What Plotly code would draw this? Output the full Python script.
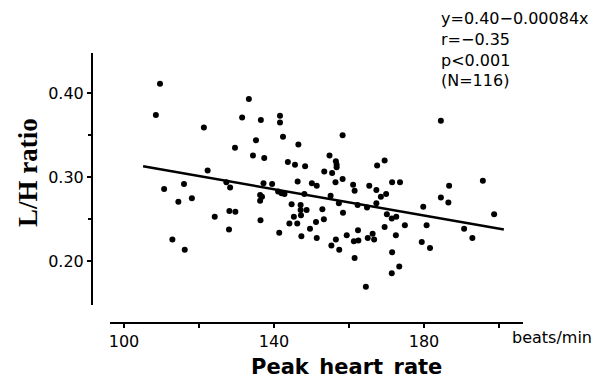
import plotly.graph_objects as go

# Data (peak heart rate in beats/min, L/H ratio)
heart_rate = [
    109.6, 108.5, 133.3, 131.5, 136.5, 141.6, 141.6, 121.3, 135.2, 142.4,
    129.6, 134.4, 137.4, 143.7, 122.3, 110.7, 116.0, 127.3, 128.3, 137.2,
    139.5, 141.1, 142.0, 142.8, 136.3, 136.8, 136.3, 114.5, 118.1, 128.1,
    129.7, 124.2, 136.4, 144.1, 128.0, 141.4, 112.9, 116.2, 144.7,
    146.5, 158.3, 145.6, 148.3, 154.8, 156.5, 156.7, 156.7, 153.4, 155.5,
    167.5, 169.5, 146.3, 150.1, 151.4, 156.4, 158.3, 161.1, 161.5, 165.4,
    167.3, 171.5, 173.6, 148.1, 155.1, 157.3, 162.3, 164.8, 167.3, 168.5,
    169.9, 147.1, 147.1, 148.7, 147.2, 145.3, 152.9, 158.4, 146.2, 151.2,
    153.3, 149.6, 147.3, 151.4, 159.4, 162.4, 161.3, 162.5, 165.0, 166.3,
    166.7, 156.5, 155.3, 157.4, 161.5, 164.5, 170.1, 171.4, 172.6, 169.5,
    172.5, 174.9, 171.5, 173.4, 171.4, 179.8, 180.7, 179.4, 181.6, 184.5,
    186.7, 195.7, 184.5, 186.5, 198.7, 190.7, 192.9,
]
lh_ratio = [
    0.411, 0.374, 0.393, 0.371, 0.368, 0.373, 0.365, 0.359, 0.344, 0.348,
    0.335, 0.326, 0.323, 0.318, 0.308, 0.286, 0.292, 0.294, 0.288, 0.293,
    0.292, 0.283, 0.281, 0.280, 0.279, 0.277, 0.272, 0.271, 0.275, 0.260,
    0.259, 0.253, 0.249, 0.245, 0.238, 0.234, 0.226, 0.214, 0.268,
    0.339, 0.350, 0.315, 0.313, 0.326, 0.319, 0.315, 0.312, 0.307, 0.305,
    0.314, 0.320, 0.295, 0.293, 0.290, 0.294, 0.298, 0.291, 0.284, 0.290,
    0.285, 0.294, 0.294, 0.280, 0.278, 0.269, 0.267, 0.264, 0.269, 0.277,
    0.280, 0.267, 0.261, 0.261, 0.255, 0.253, 0.262, 0.258, 0.245, 0.247,
    0.250, 0.239, 0.230, 0.228, 0.231, 0.237, 0.224, 0.225, 0.228, 0.233,
    0.226, 0.226, 0.219, 0.214, 0.204, 0.170, 0.256, 0.251, 0.253, 0.241,
    0.231, 0.243, 0.211, 0.194, 0.186, 0.265, 0.243, 0.223, 0.216, 0.367,
    0.290, 0.296, 0.276, 0.270, 0.256, 0.239, 0.228,
]

# Regression line endpoints as drawn in the figure
line_x = [105.1, 201.3]
line_y = [0.313, 0.238]

y_ticks = [0.20, 0.30, 0.40]
y_ticktext = ["0.20", "0.30", "0.40"]
y_minor = [0.25, 0.35]
x_ticks = [100, 140, 180]
x_ticktext = ["100", "140", "180"]
x_minor = [120, 160, 200]

stats_lines = ["y=0.40\u22120.00084x", "r=\u22120.35", "p<0.001", "(N=116)"]

# Layout geometry (pixels)
W_FIG, H_FIG = 596, 378
L, T = 92, 53
R_EDGE, B_EDGE = 523, 323
PW, PH = R_EDGE - L, B_EDGE - T


def pxx(x):
    return (x - L) / PW


def pyy(y):
    return (B_EDGE - y) / PH


fig = go.Figure()
fig.add_trace(go.Scatter(
    x=line_x, y=line_y, mode="lines",
    line=dict(color="black", width=2.5), showlegend=False, hoverinfo="skip",
))
fig.add_trace(go.Scatter(
    x=heart_rate, y=lh_ratio, mode="markers",
    marker=dict(color="black", size=6, line=dict(width=0)),
    showlegend=False,
))

tick_font = dict(family="DejaVu Sans", size=16, color="black")

fig.update_layout(
    width=W_FIG, height=H_FIG,
    margin=dict(l=L, r=W_FIG - R_EDGE, t=T, b=H_FIG - B_EDGE, autoexpand=False),
    paper_bgcolor="white", plot_bgcolor="white",
    xaxis=dict(
        domain=[pxx(110), 1], anchor="free", position=0,
        range=[96.27, 206.4],
        showline=True, linecolor="black", linewidth=1.5,
        showgrid=False, zeroline=False,
        tickmode="array", tickvals=x_ticks, ticktext=x_ticktext,
        ticks="outside", ticklen=4, tickwidth=1.5, tickcolor="black",
        tickfont=tick_font,
        minor=dict(tickvals=x_minor, ticks="outside", ticklen=4,
                   tickwidth=1.5, tickcolor="black", showgrid=False),
    ),
    yaxis=dict(
        domain=[pyy(305), 1], anchor="free", position=0,
        range=[0.1483, 0.4476],
        showline=True, linecolor="black", linewidth=2,
        showgrid=False, zeroline=False,
        tickmode="array", tickvals=y_ticks, ticktext=y_ticktext,
        ticks="outside", ticklen=4, tickwidth=1.5, tickcolor="black",
        tickfont=tick_font,
        minor=dict(tickvals=y_minor, ticks="outside", ticklen=3,
                   tickwidth=1.5, tickcolor="black", showgrid=False),
    ),
)

fig.add_annotation(
    xref="paper", yref="paper", x=pxx(439), y=pyy(7),
    xanchor="left", yanchor="top", align="left", showarrow=False,
    text="<br>".join(stats_lines),
    font=dict(family="DejaVu Sans", size=16, color="black"),
)
fig.add_annotation(
    xref="paper", yref="paper", x=pxx(510), y=pyy(337),
    xanchor="left", yanchor="middle", showarrow=False,
    text="beats/min",
    font=dict(family="DejaVu Sans", size=16, color="black"),
)
fig.add_annotation(
    xref="paper", yref="paper", x=pxx(346), y=pyy(367),
    xanchor="center", yanchor="middle", showarrow=False,
    text="<b>Peak\u2002heart\u2002rate</b>",
    font=dict(family="DejaVu Sans", size=21, color="black"),
)
fig.add_annotation(
    xref="paper", yref="paper", x=pxx(28), y=pyy(173),
    xanchor="center", yanchor="middle", showarrow=False, textangle=-90,
    text="<b>L/H ratio</b>",
    font=dict(family="Liberation Serif", size=27, color="black"),
)

fig.write_html("out.html")
